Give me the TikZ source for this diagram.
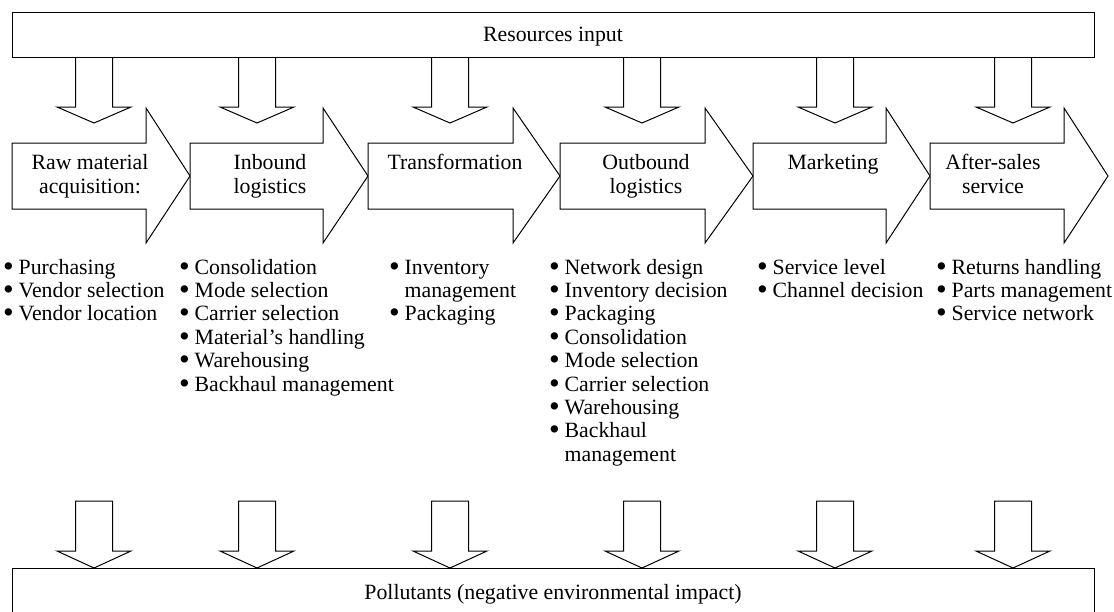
\documentclass[tikz,border=0pt]{standalone}
\usepackage{fontspec}
\setmainfont{Liberation Serif}
\newcommand\bul{\smash{\raisebox{-0.1em}{\scalebox{1.4}{•}}}}
\newcommand\bitems[1]{\begin{tabular}[t]{@{}l@{\hspace{5pt}}l@{}}#1\end{tabular}}
\newcommand\clab[1]{{\fontsize{21.8}{24.5}\selectfont\begin{tabular}[t]{@{}c@{}}#1\end{tabular}}}
\begin{document}
\begin{tikzpicture}[x=1pt,y=-1pt,line width=1pt,
  every node/.style={inner sep=0pt,outer sep=0pt,font=\fontsize{21.8}{23.4}\selectfont},
  lab/.style={anchor=base},
  blist/.style={anchor=base west},
  shp/.style={draw=black,fill=white,line join=miter}]
\useasboundingbox (0,0) rectangle (1114,611);

% input arrows (drawn first, the box edge goes over them)
\foreach \x in {94,257,450,642,835,1013}{
  \draw[shp] (\x-18.5,57) -- (\x-18.5,107) -- (\x-37,107) -- (\x,123) -- (\x+37,107) -- (\x+18.5,107) -- (\x+18.5,57);
}

% top box
\node[draw,minimum width=1082pt,minimum height=45pt] (res) at (553,34.5) {};
\node[lab] (resl) at (553,41) {Resources input};

% process arrows
\foreach \L/\H/\T in {12/146/190,190/323/368,368/513/560,560/705/753,753/886/930,930/1064/1108}{
  \draw[shp] (\L,143) -- (\H,143) -- (\H,108) -- (\T,176) -- (\H,243) -- (\H,209) -- (\L,209) -- cycle;
}

% output arrows
\foreach \x in {94,257,450,642,835,1013}{
  \draw[shp] (\x-18.5,501) -- (\x+18.5,501) -- (\x+18.5,551) -- (\x+37,551) -- (\x,568) -- (\x-37,551) -- (\x-18.5,551) -- cycle;
}

% bottom box (cut by lower edge)
\node[minimum width=1082pt,minimum height=47pt] (polbox) at (553,591.5) {};
\draw (polbox.south west) -- (polbox.north west) -- (polbox.north east) -- (polbox.south east);
\node[lab] (pol) at (553,599) {Pollutants (negative environmental impact)};

% process labels
\node[lab] (raw) at (90,169) {\clab{Raw material\\acquisition:}};
\node[lab] (inb) at (270,169) {\clab{Inbound\\logistics}};
\node[lab] (tra) at (455,169) {\clab{Transformation}};
\node[lab] (outb) at (646,169) {\clab{Outbound\\logistics}};
\node[lab] (mkt) at (833,169) {\clab{Marketing}};
\node[lab] (aft) at (993,169) {\clab{After-sales\\service}};

% activity lists
\node[blist] (l1) at (3,274) {\bitems{\bul&Purchasing\\ \bul&Vendor selection\\ \bul&Vendor location}};
\node[blist] (l2) at (179,274) {\bitems{\bul&Consolidation\\ \bul&Mode selection\\ \bul&Carrier selection\\ \bul&Material’s handling\\ \bul&Warehousing\\ \bul&Backhaul management}};
\node[blist] (l3) at (389,274) {\bitems{\bul&Inventory\\ &management\\ \bul&Packaging}};
\node[blist] (l4) at (549,274) {\bitems{\bul&Network design\\ \bul&Inventory decision\\ \bul&Packaging\\ \bul&Consolidation\\ \bul&Mode selection\\ \bul&Carrier selection\\ \bul&Warehousing\\ \bul&Backhaul\\ &management}};
\node[blist] (l5) at (757,274) {\bitems{\bul&Service level\\ \bul&Channel decision}};
\node[blist] (l6) at (936,274) {\bitems{\bul&Returns handling\\ \bul&Parts management\\ \bul&Service network}};
\end{tikzpicture}
\end{document}
